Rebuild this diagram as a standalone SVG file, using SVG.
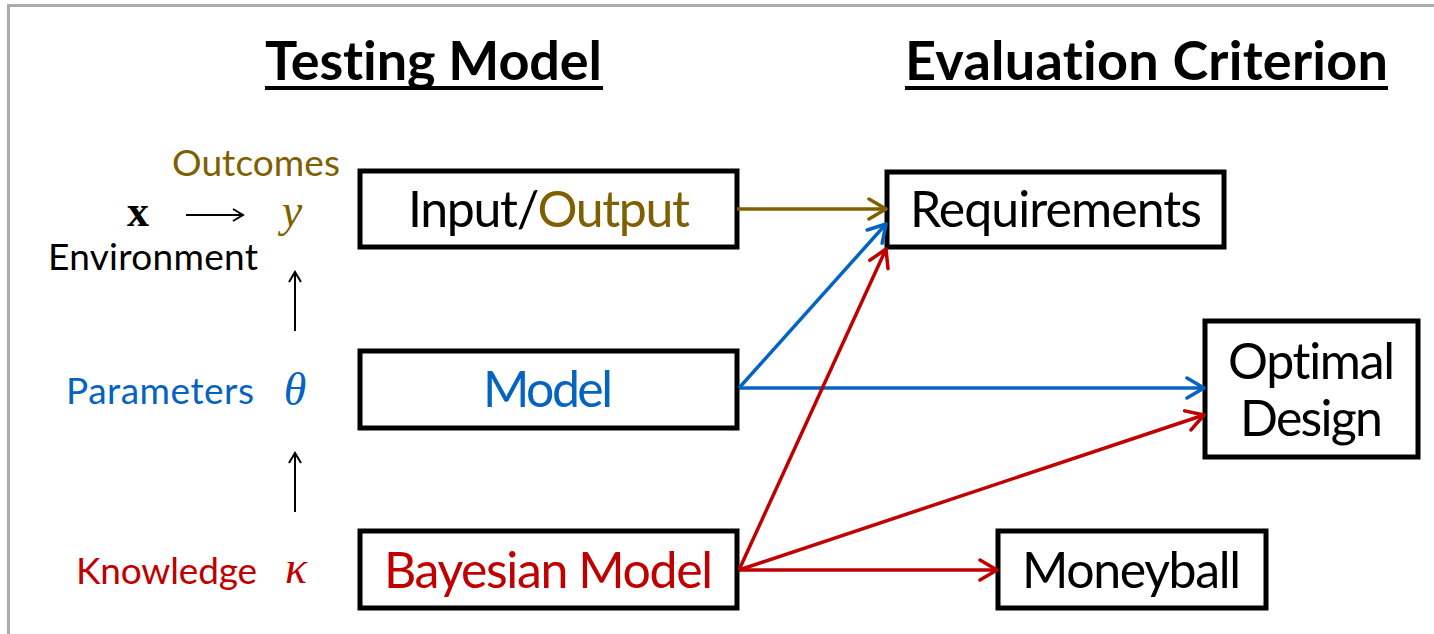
<svg xmlns="http://www.w3.org/2000/svg" width="1434" height="634" viewBox="0 0 1434 634">
  <defs>
    <style>
      .t { font-family: Lato, "Liberation Sans", sans-serif; font-variant-ligatures: none; }
      .title { font-size: 54px; font-weight: bold; fill: #000; }
      .box { fill: #fff; stroke: #000; stroke-width: 5; }
      .lbl { font-size: 50px; }
      .side { font-size: 37px; }
      .math { font-family: "Liberation Serif", "DejaVu Serif", serif; font-style: italic; font-size: 46px; text-anchor: middle; }
      .olive { fill: #7F6000; }
      .blue { fill: #0563C1; }
      .red { fill: #C00000; }
      .edge { fill: none; stroke-width: 3.5; }
    </style>
    <marker id="ah-olive" markerWidth="24" markerHeight="24" refX="20" refY="12" orient="auto" markerUnits="userSpaceOnUse" viewBox="0 0 24 24">
      <path d="M3,2 L20,12 L3,22" fill="none" stroke="#7F6000" stroke-width="3.5" stroke-linecap="round" stroke-linejoin="round"/>
    </marker>
    <marker id="ah-blue" markerWidth="24" markerHeight="24" refX="20" refY="12" orient="auto" markerUnits="userSpaceOnUse" viewBox="0 0 24 24">
      <path d="M3,2 L20,12 L3,22" fill="none" stroke="#0563C1" stroke-width="3.5" stroke-linecap="round" stroke-linejoin="round"/>
    </marker>
    <marker id="ah-red" markerWidth="24" markerHeight="24" refX="20" refY="12" orient="auto" markerUnits="userSpaceOnUse" viewBox="0 0 24 24">
      <path d="M3,2 L20,12 L3,22" fill="none" stroke="#C00000" stroke-width="3.5" stroke-linecap="round" stroke-linejoin="round"/>
    </marker>
    <marker id="ah-black" markerWidth="14" markerHeight="14" refX="12" refY="7" orient="auto" markerUnits="userSpaceOnUse" viewBox="0 0 14 14">
      <path d="M2,1 L12,7 L2,13" fill="none" stroke="#000" stroke-width="2"/>
    </marker>
  </defs>

  <rect width="1434" height="634" fill="#fff"/>
  <!-- slide frame -->
  <path d="M8.5,640 L8.5,5.5 L1440,5.5" fill="none" stroke="#ababab" stroke-width="3"/>

  <!-- headings -->
  <g id="headings" class="t">
    <text class="title" x="265" y="80" textLength="337" lengthAdjust="spacing">Testing Model</text>
    <rect x="265" y="86" width="338" height="4" fill="#000"/>
    <text class="title" x="905" y="80" textLength="483" lengthAdjust="spacing">Evaluation Criterion</text>
    <rect x="905" y="86" width="483" height="4" fill="#000"/>
  </g>

  <!-- variable chain on the left -->
  <g id="chain" class="t">
    <text class="side olive" x="172" y="176" textLength="168" lengthAdjust="spacing">Outcomes</text>
    <text x="138" y="226" font-family="Liberation Serif, DejaVu Serif, serif" font-weight="bold" font-size="44" text-anchor="middle">x</text>
    <line x1="186" y1="215" x2="243" y2="215" stroke="#000" stroke-width="2" marker-end="url(#ah-black)"/>
    <text class="math olive" x="292" y="226">y</text>
    <text class="side" x="48" y="270" textLength="210" lengthAdjust="spacing">Environment</text>
    <line x1="295" y1="331" x2="295" y2="272" stroke="#000" stroke-width="2" marker-end="url(#ah-black)"/>
    <text class="side blue" x="66" y="404" textLength="188" lengthAdjust="spacing">Parameters</text>
    <text class="math blue" x="295" y="405">θ</text>
    <line x1="295" y1="512" x2="295" y2="453" stroke="#000" stroke-width="2" marker-end="url(#ah-black)"/>
    <text class="side red" x="76" y="584" textLength="181" lengthAdjust="spacing">Knowledge</text>
    <text class="math red" x="296" y="583">κ</text>
  </g>

  <!-- testing model nodes -->
  <g id="io" class="t">
    <rect class="box" x="360" y="171" width="377" height="76"/>
    <text class="lbl" x="408" y="227" textLength="282" lengthAdjust="spacing"><tspan>Input/</tspan><tspan class="olive">Output</tspan></text>
  </g>
  <g id="model" class="t">
    <rect class="box" x="360" y="351" width="377" height="77"/>
    <text class="lbl blue" x="483" y="407" textLength="130" lengthAdjust="spacing">Model</text>
  </g>
  <g id="bayes" class="t">
    <rect class="box" x="360" y="531" width="377" height="77"/>
    <text class="lbl red" x="384" y="588" textLength="329" lengthAdjust="spacing">Bayesian Model</text>
  </g>

  <!-- evaluation nodes -->
  <g id="requirements" class="t">
    <rect class="box" x="887" y="172" width="337" height="75"/>
    <text class="lbl" x="910" y="227" textLength="292" lengthAdjust="spacing">Requirements</text>
  </g>
  <g id="optimal" class="t">
    <rect class="box" x="1205" y="321" width="213" height="136"/>
    <text class="lbl" x="1228" y="379" textLength="167" lengthAdjust="spacing">Optimal</text>
    <text class="lbl" x="1240" y="436" textLength="143" lengthAdjust="spacing">Design</text>
  </g>
  <g id="moneyball" class="t">
    <rect class="box" x="998" y="531" width="268" height="77"/>
    <text class="lbl" x="1022" y="588" textLength="219" lengthAdjust="spacing">Moneyball</text>
  </g>

  <!-- connectors -->
  <g id="connectors">
    <line class="edge" x1="737" y1="209" x2="886" y2="209" stroke="#7F6000" marker-end="url(#ah-olive)"/>
    <line class="edge" x1="739" y1="388" x2="886" y2="224" stroke="#0563C1" marker-end="url(#ah-blue)"/>
    <line class="edge" x1="739" y1="388" x2="1204" y2="388" stroke="#0563C1" marker-end="url(#ah-blue)"/>
    <line class="edge" x1="739" y1="570" x2="886" y2="249" stroke="#C00000" marker-end="url(#ah-red)"/>
    <line class="edge" x1="739" y1="570" x2="1204" y2="415" stroke="#C00000" marker-end="url(#ah-red)"/>
    <line class="edge" x1="739" y1="570" x2="997" y2="570" stroke="#C00000" marker-end="url(#ah-red)"/>
  </g>
</svg>
